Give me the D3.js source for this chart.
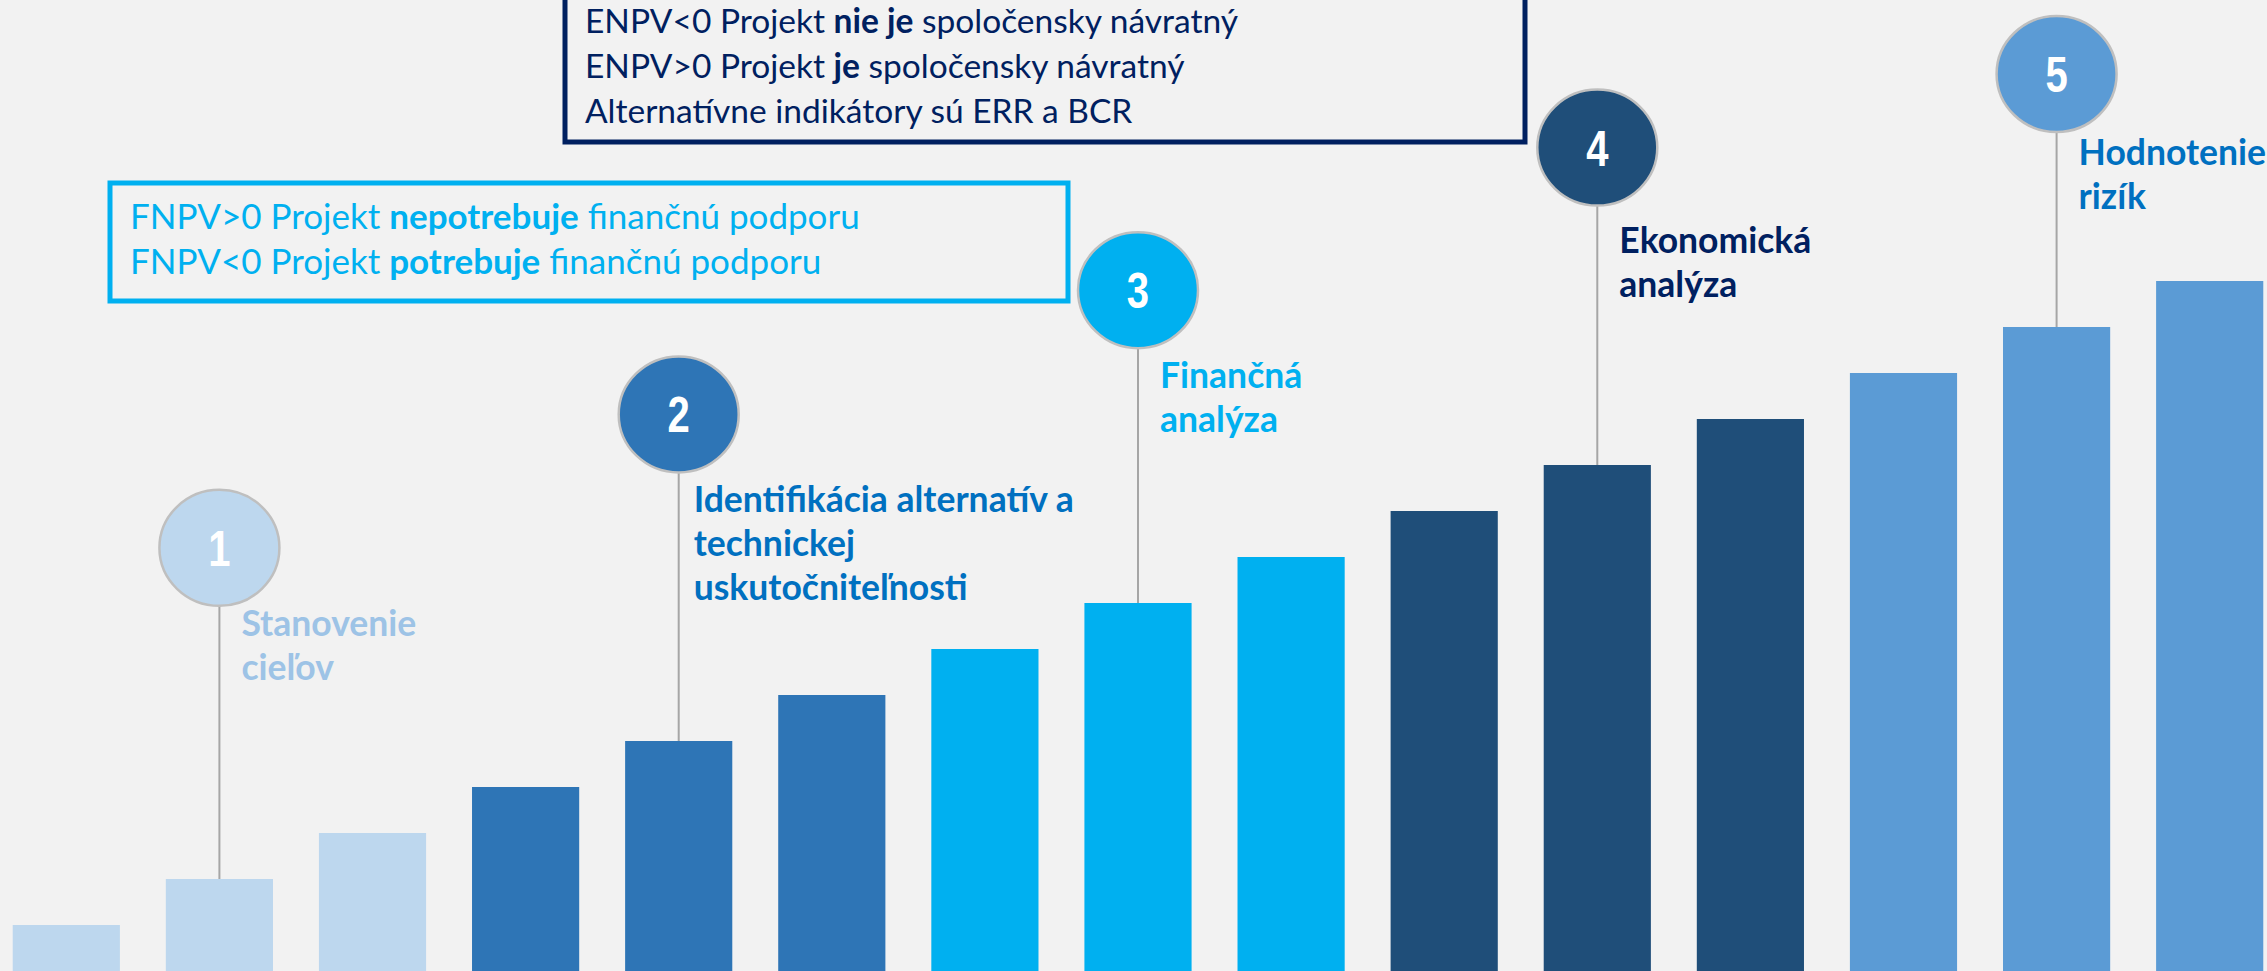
<!DOCTYPE html>
<html>
<head>
<meta charset="utf-8">
<script src="https://cdn.jsdelivr.net/npm/d3@7"></script>
<style>
  html, body { margin: 0; padding: 0; background: #f2f2f2; }
  svg { display: block; }
  .box text { font-family: Lato, "Open Sans", sans-serif; }
  .label { font-family: Lato, "Open Sans", sans-serif; font-weight: bold; }
  .num { font-family: "Liberation Sans", Arial, sans-serif; font-weight: bold; fill: #fff; }
</style>
</head>
<body>
<svg width="2267" height="971"></svg>
<script>
// steps of the staircase (one bar per step)
var steps      = ["1","2","3","4","5","6","7","8","9","10","11","12","13","14","15"];
var stepValues = [1, 2, 3, 4, 5, 6, 7, 8, 9, 10, 11, 12, 13, 14, 15];
var stepPhase  = [0, 0, 0, 1, 1, 1, 2, 2, 2, 3, 3, 3, 4, 4, 4];

// the five phases
var phaseNums   = ["1", "2", "3", "4", "5"];
var phaseLabels = [
  ["Stanovenie", "cieľov"],
  ["Identifikácia alternatív a", "technickej", "uskutočniteľnosti"],
  ["Finančná", "analýza"],
  ["Ekonomická", "analýza"],
  ["Hodnotenie", "rizík"]
];
var phaseStep   = ["2", "5", "8", "11", "14"];   // bar the marker stands on
var phaseLevel  = [9.2, 12.1, 14.8, 17.9, 19.5]; // marker height, in steps

// info boxes
var enpvLines = [
  [["ENPV<0 Projekt ", 0], ["nie je", 1], [" spoločensky návratný", 0]],
  [["ENPV>0 Projekt ", 0], ["je", 1], [" spoločensky návratný", 0]],
  [["Alternatívne indikátory sú ERR a BCR", 0]]
];
var fnpvLines = [
  [["FNPV>0 Projekt ", 0], ["nepotrebuje", 1], [" finančnú podporu", 0]],
  [["FNPV<0 Projekt ", 0], ["potrebuje", 1], [" finančnú podporu", 0]]
];

var barColors   = ["#bdd7ee", "#2e75b6", "#00b0f0", "#1f4e79", "#5b9bd5"];
var circleFill  = ["#bdd7ee", "#2e75b6", "#00b0f0", "#1f4e79", "#5b9bd5"];
var labelColors = ["#9dc3e6", "#0070c0", "#00b0f0", "#002060", "#0070c0"];

// label offsets from the marker centre
var labelDx = [22, 15, 22, 22, 22],
    labelDy = [88, 98, 98, 105, 91];

var svg = d3.select("svg"),
    W = 2267, H = 971;

svg.append("rect").attr("width", W).attr("height", H).attr("fill", "#f2f2f2");

var x = d3.scaleBand()
          .domain(steps)
          .range([4, 2272])
          .paddingInner(0.3)
          .paddingOuter(0.057);

var y = d3.scaleLinear()
          .domain([0, 15])
          .range([H, 281]);

//Bars
svg.selectAll(".bar")
   .data(stepValues)
   .enter().append("rect")
     .attr("class", "bar")
     .attr("x", function(d,i) { return x(steps[i]); })
     .attr("y", function(d) { return y(d); })
     .attr("width", x.bandwidth())
     .attr("height", function(d) { return H - y(d); })
     .attr("fill", function(d,i) { return barColors[stepPhase[i]]; });

//Markers
var rx = 60, ry = 58;
var g = svg.selectAll(".phase")
   .data(phaseNums)
   .enter().append("g")
     .attr("class", "phase")
     .attr("transform", function(d,i) {
        return "translate(" + (x(phaseStep[i]) + x.bandwidth()/2) + "," + y(phaseLevel[i]) + ")";
     });

g.append("line")
   .attr("x1", 0).attr("x2", 0)
   .attr("y1", ry)
   .attr("y2", function(d,i) { return y(+phaseStep[i]) - y(phaseLevel[i]); })
   .attr("stroke", "#a6a6a6")
   .attr("stroke-width", 2);

g.append("ellipse")
   .attr("rx", rx).attr("ry", ry)
   .attr("fill", function(d,i) { return circleFill[i]; })
   .attr("stroke", "#bfbfbf")
   .attr("stroke-width", 2.5);

g.append("text")
   .attr("class", "num")
   .attr("text-anchor", "middle")
   .attr("transform", "translate(0,18) scale(0.8,1)")
   .style("font-size", "50px")
   .text(function(d) { return d; });

g.append("text")
   .attr("class", "label")
   .attr("y", function(d,i) { return labelDy[i]; })
   .style("font-size", "35.5px")
   .attr("fill", function(d,i) { return labelColors[i]; })
   .selectAll("tspan")
   .data(function(d,i) { return phaseLabels[i].map(function(t) { return [t, i]; }); })
   .enter().append("tspan")
     .attr("x", function(d) { return labelDx[d[1]]; })
     .attr("dy", function(d,i) { return i ? 44 : 0; })
     .text(function(d) { return d[0]; });

//Info boxes
function infoBox(lines, bx, by, bw, bh, color, tx, ty, fs) {
  var b = svg.append("g").attr("class", "box");
  b.append("rect")
    .attr("x", bx).attr("y", by)
    .attr("width", bw).attr("height", bh)
    .attr("fill", "none")
    .attr("stroke", color)
    .attr("stroke-width", 5);
  b.selectAll("text")
    .data(lines)
    .enter().append("text")
      .attr("x", tx)
      .attr("y", function(d,i) { return ty + i * 45; })
      .attr("fill", color)
      .style("font-size", fs + "px")
      .selectAll("tspan")
      .data(function(d) { return d; })
      .enter().append("tspan")
        .style("font-weight", function(d) { return d[1] ? "bold" : "normal"; })
        .style("white-space", "pre")
        .text(function(d) { return d[0]; });
}

infoBox(enpvLines, 565, -20, 960, 162, "#002060", 585, 33, 33.5);
infoBox(fnpvLines, 110, 183, 958, 118, "#00b0f0", 130, 229, 35);
</script>
</body>
</html>
